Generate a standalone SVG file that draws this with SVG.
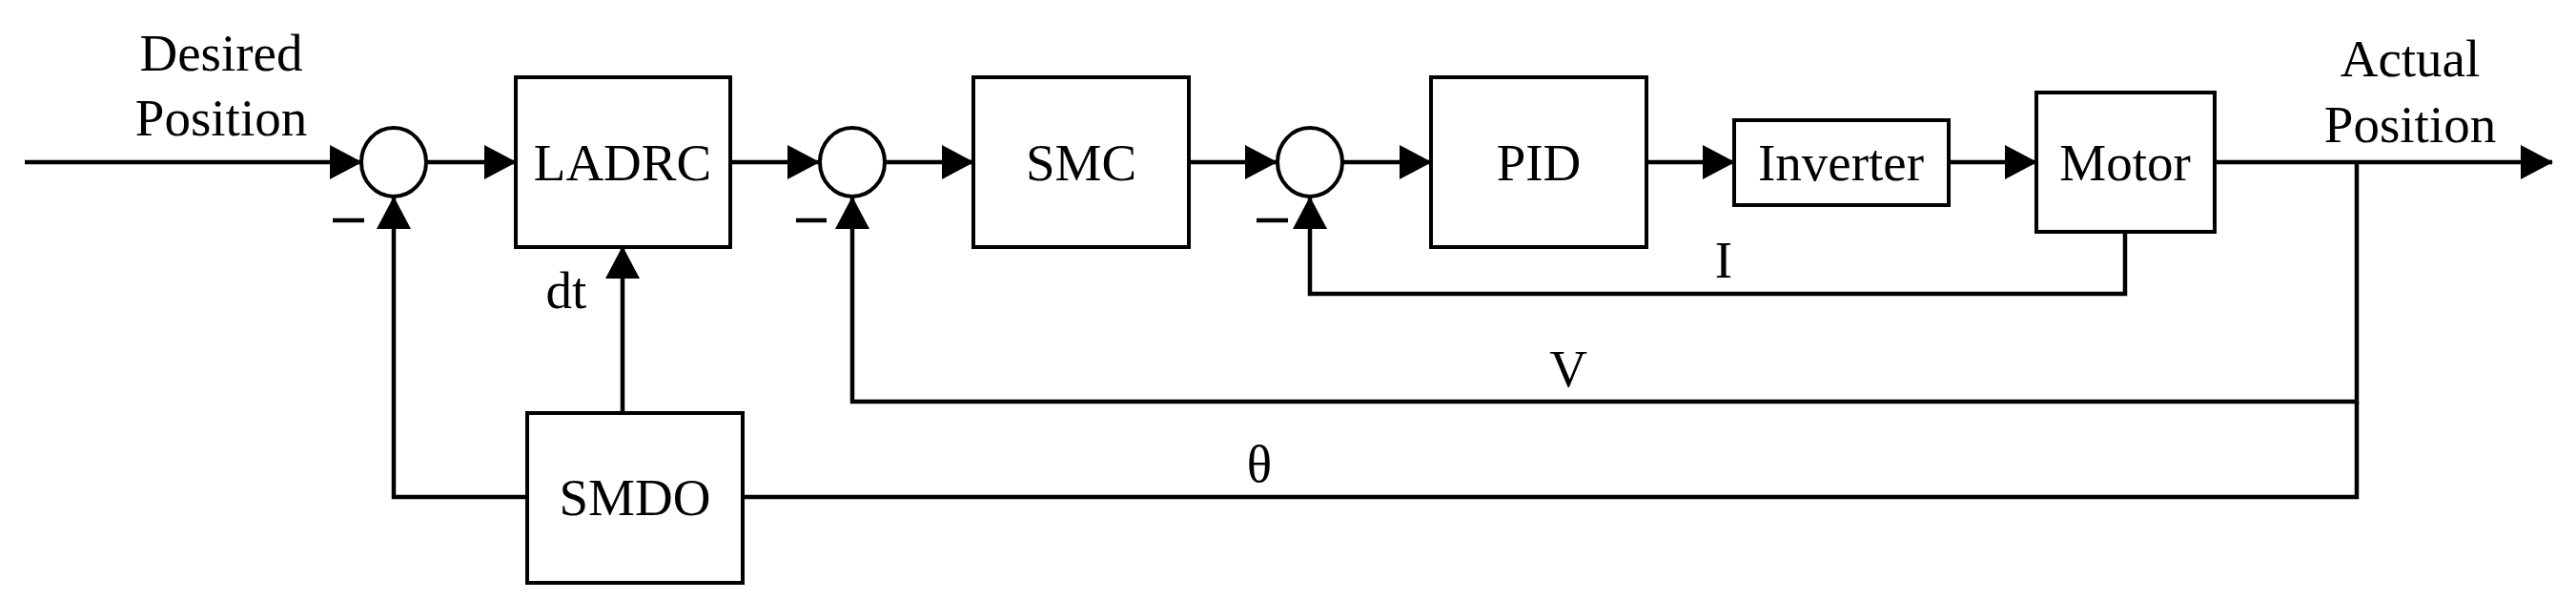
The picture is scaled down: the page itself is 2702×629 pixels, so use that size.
<svg xmlns="http://www.w3.org/2000/svg" width="2702" height="629" viewBox="0 0 2702 629">
<style>
.b{fill:#fff;stroke:#000;stroke-width:4}
.l{fill:none;stroke:#000;stroke-width:4.5}
.t{font-family:"Liberation Serif","Times New Roman",serif;font-size:55px;fill:#000;text-anchor:middle}
</style>
<defs>
<marker id="a" markerUnits="userSpaceOnUse" markerWidth="34" markerHeight="36" refX="33" refY="18" orient="auto"><path d="M0,0 L34,18 L0,36 Z" fill="#000"/></marker>
</defs>
<rect width="2702" height="629" fill="#fff"/>
<g id="connectors">
<line class="l" x1="26" y1="170" x2="379" y2="170" marker-end="url(#a)"/>
<line class="l" x1="448" y1="170" x2="541" y2="170" marker-end="url(#a)"/>
<line class="l" x1="766" y1="170" x2="859" y2="170" marker-end="url(#a)"/>
<line class="l" x1="929" y1="170" x2="1021" y2="170" marker-end="url(#a)"/>
<line class="l" x1="1247" y1="170" x2="1339" y2="170" marker-end="url(#a)"/>
<line class="l" x1="1408" y1="170" x2="1501" y2="170" marker-end="url(#a)"/>
<line class="l" x1="1727" y1="170" x2="1819" y2="170" marker-end="url(#a)"/>
<line class="l" x1="2044" y1="170" x2="2136" y2="170" marker-end="url(#a)"/>
<line class="l" x1="2323" y1="170" x2="2677" y2="170" marker-end="url(#a)"/>
<polyline class="l" points="2229,243 2229,308 1374,308 1374,207" marker-end="url(#a)"/>
<polyline class="l" points="2472,170 2472,421 894,421 894,207" marker-end="url(#a)"/>
<polyline class="l" points="2472,421 2472,521 779,521"/>
<polyline class="l" points="553,521 413,521 413,207" marker-end="url(#a)"/>
<line class="l" x1="653" y1="433" x2="653" y2="259" marker-end="url(#a)"/>
<line class="l" x1="349" y1="231" x2="382" y2="231"/>
<line class="l" x1="835" y1="231" x2="867" y2="231"/>
<line class="l" x1="1318" y1="231" x2="1351" y2="231"/>
</g>
<g id="sum1"><ellipse class="b" cx="413" cy="170" rx="34" ry="36"/></g>
<g id="sum2"><ellipse class="b" cx="894" cy="170" rx="34" ry="36"/></g>
<g id="sum3"><ellipse class="b" cx="1374" cy="170" rx="34" ry="36"/></g>
<g id="ladrc"><rect class="b" x="541" y="81" width="225" height="178"/><text class="t" x="653" y="189">LADRC</text></g>
<g id="smc"><rect class="b" x="1021" y="81" width="226" height="178"/><text class="t" x="1134" y="189">SMC</text></g>
<g id="pid"><rect class="b" x="1501" y="81" width="226" height="178"/><text class="t" x="1614" y="189">PID</text></g>
<g id="inverter"><rect class="b" x="1819" y="126" width="225" height="89"/><text class="t" x="1931" y="189">Inverter</text></g>
<g id="motor"><rect class="b" x="2136" y="97" width="187" height="146"/><text class="t" x="2229" y="189">Motor</text></g>
<g id="smdo"><rect class="b" x="553" y="433" width="226" height="178"/><text class="t" x="666" y="540">SMDO</text></g>
<g id="labels">
<text class="t" x="232" y="74">Desired</text>
<text class="t" x="232" y="142">Position</text>
<text class="t" x="2528" y="80">Actual</text>
<text class="t" x="2528" y="149">Position</text>
<text class="t" x="594" y="323">dt</text>
<text class="t" x="1808" y="291">I</text>
<text class="t" x="1645" y="405">V</text>
<text class="t" x="1321" y="505">θ</text>
</g>
</svg>
